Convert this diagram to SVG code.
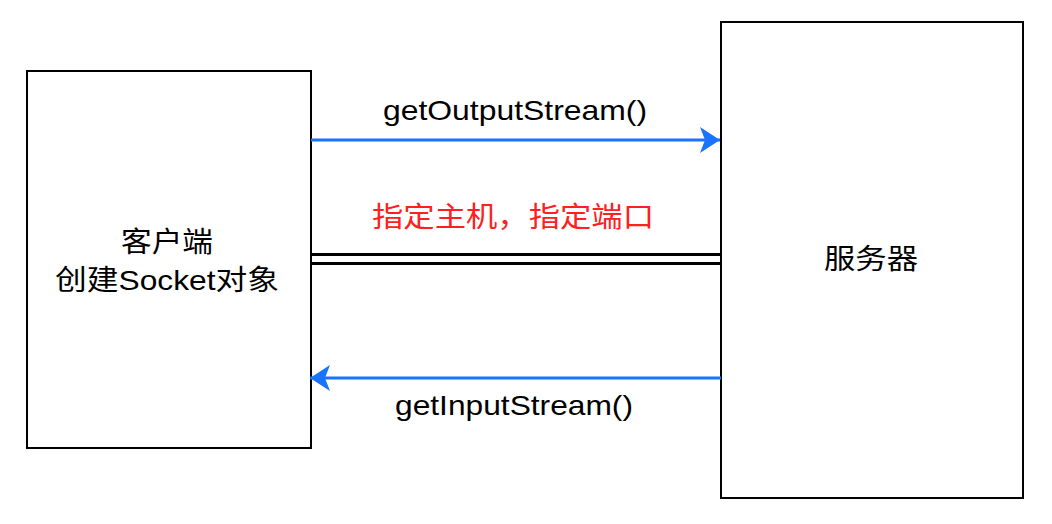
<svg xmlns="http://www.w3.org/2000/svg" width="1052" height="524" viewBox="0 0 1052 524">
  <style>
    .box { fill: #ffffff; stroke: #000000; stroke-width: 2; }
    .lbl { font-family: "Liberation Sans", Arial, "Noto Sans CJK SC", sans-serif; font-size: 28px; fill: #000000; text-anchor: middle; }
    .red { fill: #ff2020; }
    .blue { stroke: #1a73ff; stroke-width: 3; fill: none; }
    .link { stroke: #000000; stroke-width: 3; fill: none; }
  </style>
  <defs>
    <marker id="arr" viewBox="0 0 20 26" refX="20" refY="13" markerWidth="20" markerHeight="26" markerUnits="userSpaceOnUse" orient="auto">
      <path d="M0,0 L20,13 L0,26 L5,13 Z" fill="#1a73ff"/>
    </marker>
  </defs>
  <rect width="1052" height="524" fill="#ffffff"/>
  <g id="client">
    <rect class="box" x="27" y="71" width="284" height="377"/>
    <text class="lbl" x="167" y="252" textLength="92" lengthAdjust="spacingAndGlyphs">客户端</text>
    <text class="lbl" x="167" y="290" textLength="224" lengthAdjust="spacingAndGlyphs">创建Socket对象</text>
  </g>
  <g id="server">
    <rect class="box" x="721" y="22" width="302" height="476"/>
    <text class="lbl" x="871" y="269" textLength="94" lengthAdjust="spacingAndGlyphs">服务器</text>
  </g>
  <g id="connectors">
    <line class="blue" x1="311" y1="140" x2="720" y2="140" marker-end="url(#arr)"/>
    <line class="blue" x1="721" y1="378" x2="310" y2="378" marker-end="url(#arr)"/>
    <line class="link" x1="311" y1="254.5" x2="720" y2="254.5"/>
    <line class="link" x1="311" y1="263.5" x2="720" y2="263.5"/>
    <text class="lbl" x="515" y="120" textLength="264" lengthAdjust="spacingAndGlyphs">getOutputStream()</text>
    <text class="lbl red" x="513" y="227" textLength="282" lengthAdjust="spacingAndGlyphs">指定主机，指定端口</text>
    <text class="lbl" x="514" y="415" textLength="238" lengthAdjust="spacingAndGlyphs">getInputStream()</text>
  </g>
</svg>
